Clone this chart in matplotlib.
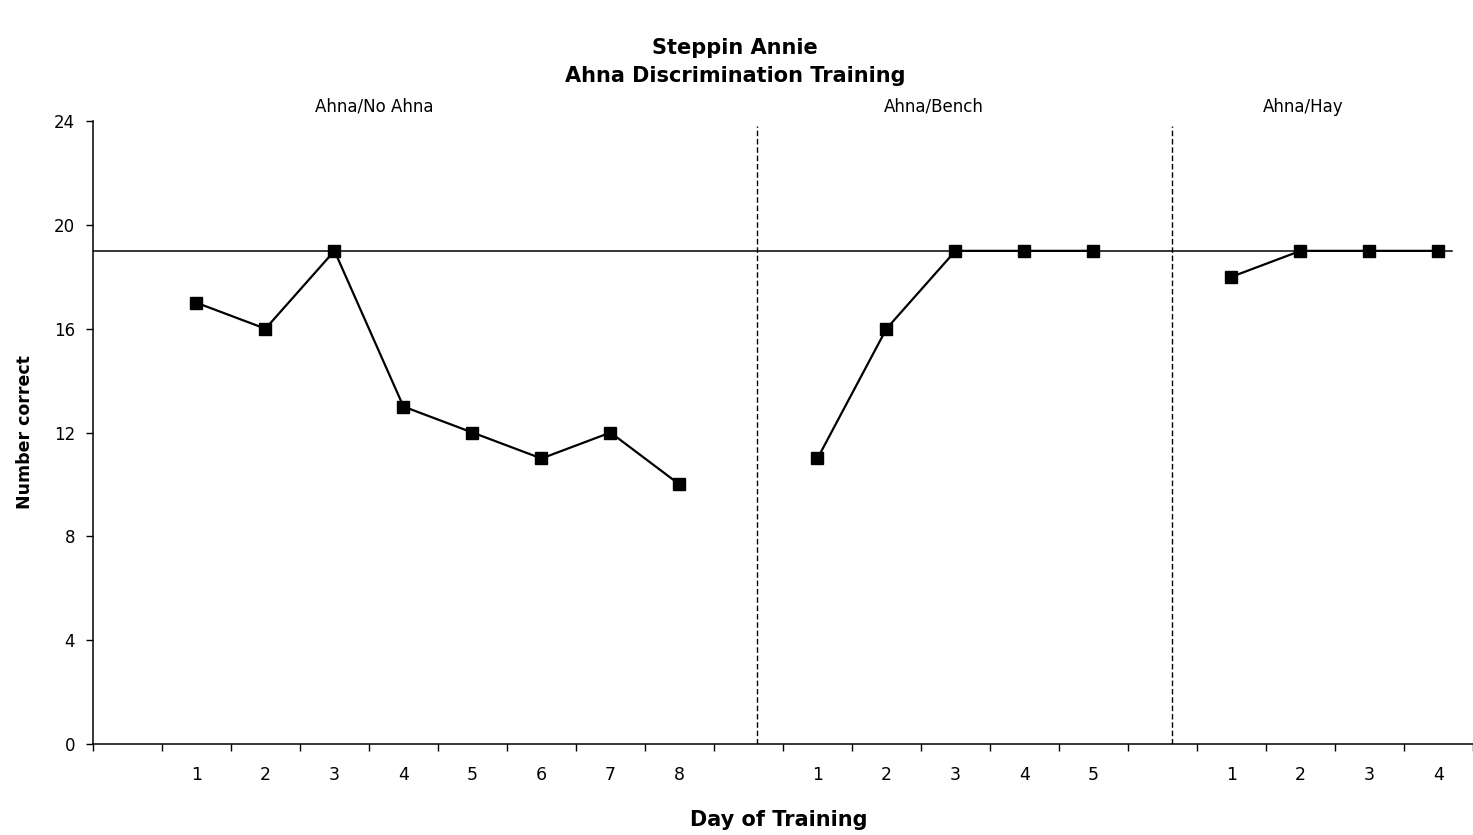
import numpy as np
import matplotlib.pyplot as plt

plt.rcParams['font.family'] = ['DejaVu Sans']

# phases of training and number correct per day
phases = ['Ahna/No Ahna', 'Ahna/Bench', 'Ahna/Hay']
no_ahna = [17, 16, 19, 13, 12, 11, 12, 10]
bench = [11, 16, 19, 19, 19]
hay = [18, 19, 19, 19]
criterion = 19

# category slots on the x axis (gaps between phases)
x_no_ahna = np.arange(1, 9)
x_bench = np.arange(10, 15)
x_hay = np.arange(16, 20)
day_labels = [str(d) for d in range(1, 9)] + [str(d) for d in range(1, 6)] + [str(d) for d in range(1, 5)]
phase_breaks = [9.13, 15.14]
phase_label_x = [3.58, 11.68, 17.04]

fig = plt.figure(figsize=(14.73, 8.35), dpi=100)
ax = fig.add_axes([0.0631, 0.109, 0.9369, 0.746])

for xs, ys in [(x_no_ahna, no_ahna), (x_bench, bench), (x_hay, hay)]:
    ax.plot(xs, ys, color='black', lw=1.6, marker='s', ms=8.5, zorder=3)

ax.axhline(criterion, xmin=0, xmax=0.985, color='black', lw=1.1)
for b in phase_breaks:
    ax.plot([b, b], [0, 23.8], color='black', lw=1.0, linestyle=(0, (4, 2)))

for px, name in zip(phase_label_x, phases):
    ax.text(px, 24.55, name, ha='center', va='center', fontsize=12, clip_on=False)

ax.set_xlim(-0.5, 19.5)
ax.set_ylim(0, 24)
ax.set_yticks(np.arange(0, 25, 4))
ax.set_xticks(np.arange(-0.5, 20, 1))
ax.set_xticklabels([])
ax.set_xticks(np.concatenate([x_no_ahna, x_bench, x_hay]), minor=True)
ax.set_xticklabels(day_labels, minor=True)
ax.tick_params(axis='x', which='major', length=5, width=1, direction='out')
ax.tick_params(axis='x', which='minor', length=0, pad=16, labelsize=12.5)
ax.tick_params(axis='y', length=5, width=1, direction='out', labelsize=12, pad=8)

for s in ['top', 'right']:
    ax.spines[s].set_visible(False)
for s in ['left', 'bottom']:
    ax.spines[s].set_linewidth(1.1)

fig.text(0.017, 0.483, 'Number correct', rotation=90, ha='center', va='center', fontsize=12.5, fontweight='bold')
fig.text(0.529, 0.018, 'Day of Training', ha='center', va='center', fontsize=15, fontweight='bold')
fig.text(0.499, 0.943, 'Steppin Annie', ha='center', va='center', fontsize=15, fontweight='bold')
fig.text(0.499, 0.909, 'Ahna Discrimination Training', ha='center', va='center', fontsize=15, fontweight='bold')

fig.savefig('out.png', dpi=100)
